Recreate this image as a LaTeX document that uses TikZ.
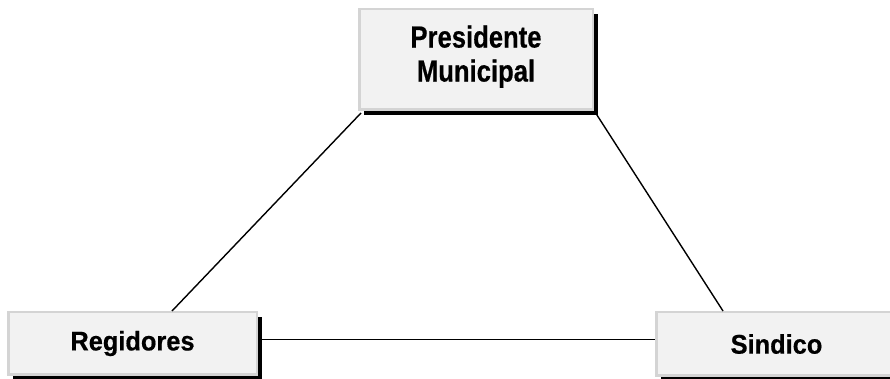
\documentclass[tikz,border=0pt]{standalone}
\usepackage{fontspec}
\setmainfont{Liberation Sans}
\newfontfamily\topfont[FakeStretch=0.84,FakeBold=0.5]{Liberation Sans Bold}
\newfontfamily\lowfont[FakeStretch=0.94,FakeBold=0.5]{Liberation Sans Bold}
\usetikzlibrary{shadows}
\definecolor{boxfill}{HTML}{F2F2F2}
\definecolor{boxline}{HTML}{D4D4D4}
\begin{document}
\begin{tikzpicture}[x=1pt,y=1pt,
  orgbox/.style={rectangle, fill=boxfill, draw=boxline, line width=2.5pt,
    inner sep=0pt, align=center,
    drop shadow={shadow xshift=5pt, shadow yshift=-5pt, fill=black, opacity=1}},
  topbox/.style={orgbox, font=\topfont\fontsize{30.5}{34}\selectfont},
  lowbox/.style={orgbox, font=\lowfont\fontsize{27}{32}\selectfont},
  conn/.style={draw=black, line width=1.4pt}]
\fill[white] (0,0) rectangle (890,379);
\useasboundingbox (0,0) rectangle (890,379);
\node[topbox, minimum width=233.5pt, minimum height=100.5pt, text depth=12pt] (pres) at (476,319.5) {Presidente\\Municipal};
\node[lowbox, minimum width=248.5pt, minimum height=62.5pt] (reg) at (132.5,35.5) {Regidores};
\node[lowbox, minimum width=240.5pt, minimum height=63.5pt] (sin) at (776.5,35) {Sindico};
\draw[conn] ([yshift=4pt]reg.east) -- ([yshift=4.5pt]sin.west);
\draw[conn] ([xshift=3pt,yshift=-2pt]pres.south west) -- ([xshift=39.5pt]reg.north);
\draw[conn] ([xshift=1pt,yshift=-1pt]pres.south east) -- ([xshift=-53.5pt]sin.north);
\end{tikzpicture}
\end{document}
